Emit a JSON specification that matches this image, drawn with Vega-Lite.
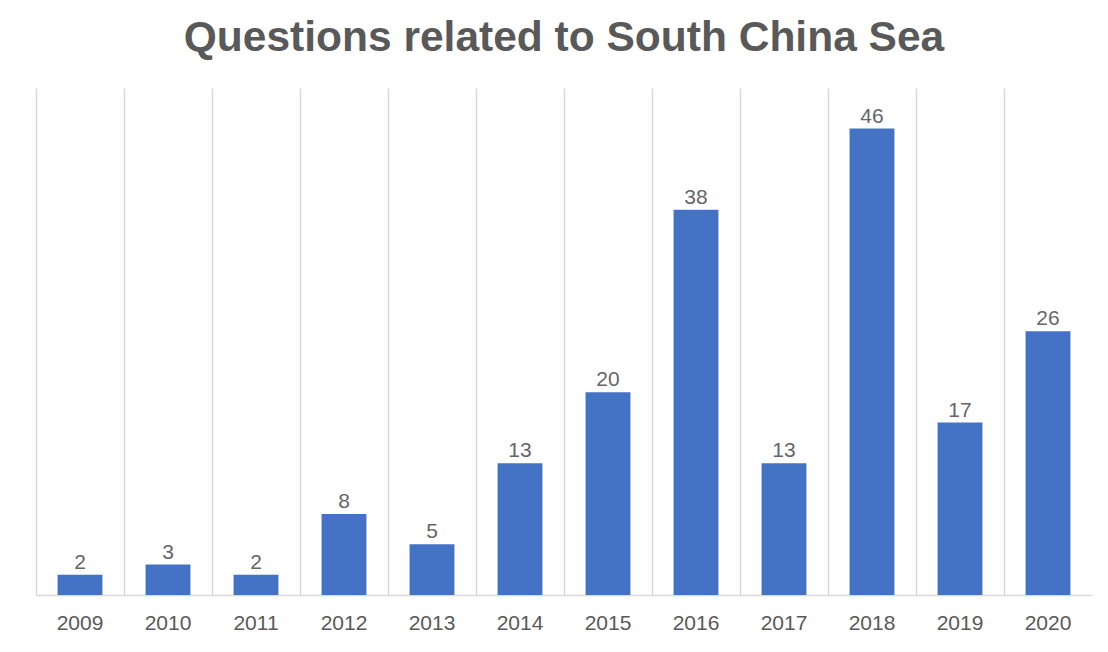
{
  "$schema": "https://vega.github.io/schema/vega-lite/v6.json",
  "autosize": "none",
  "padding": {"left": 36, "top": 88, "right": 16, "bottom": 57},
  "width": 1056,
  "height": 507,
  "background": "white",
  "title": {
    "text": "Questions related to South China Sea",
    "font": "Liberation Sans",
    "fontSize": 42.5,
    "fontWeight": "bold",
    "color": "#595959",
    "anchor": "middle",
    "baseline": "alphabetic",
    "offset": 29,
    "dy": 34
  },
  "data": {
    "values": [
      {"year": "2009", "count": 2},
      {"year": "2010", "count": 3},
      {"year": "2011", "count": 2},
      {"year": "2012", "count": 8},
      {"year": "2013", "count": 5},
      {"year": "2014", "count": 13},
      {"year": "2015", "count": 20},
      {"year": "2016", "count": 38},
      {"year": "2017", "count": 13},
      {"year": "2018", "count": 46},
      {"year": "2019", "count": 17},
      {"year": "2020", "count": 26}
    ]
  },
  "encoding": {
    "x": {
      "field": "year",
      "type": "nominal",
      "sort": null,
      "scale": {"paddingInner": 0, "paddingOuter": 0},
      "axis": {
        "title": null,
        "labelAngle": 0,
        "labelFont": "Liberation Sans",
        "labelFontSize": 21,
        "labelColor": "#595959",
        "labelBaseline": "alphabetic",
        "labelPadding": 34,
        "ticks": false,
        "domainColor": "#d9d9d9",
        "domainWidth": 1.5,
        "grid": true,
        "gridColor": "#d9d9d9",
        "gridWidth": 1.5,
        "bandPosition": 0
      }
    },
    "y": {
      "field": "count",
      "type": "quantitative",
      "scale": {"domain": [0, 50], "nice": false},
      "axis": null
    }
  },
  "layer": [
    {
      "mark": {"type": "bar", "color": "#4472C4", "width": {"band": 0.51}}
    },
    {
      "mark": {
        "type": "text",
        "baseline": "alphabetic",
        "dy": -6,
        "font": "Liberation Sans",
        "fontSize": 21,
        "color": "#666666"
      },
      "encoding": {"text": {"field": "count", "type": "quantitative"}}
    }
  ],
  "config": {"view": {"stroke": null}}
}
